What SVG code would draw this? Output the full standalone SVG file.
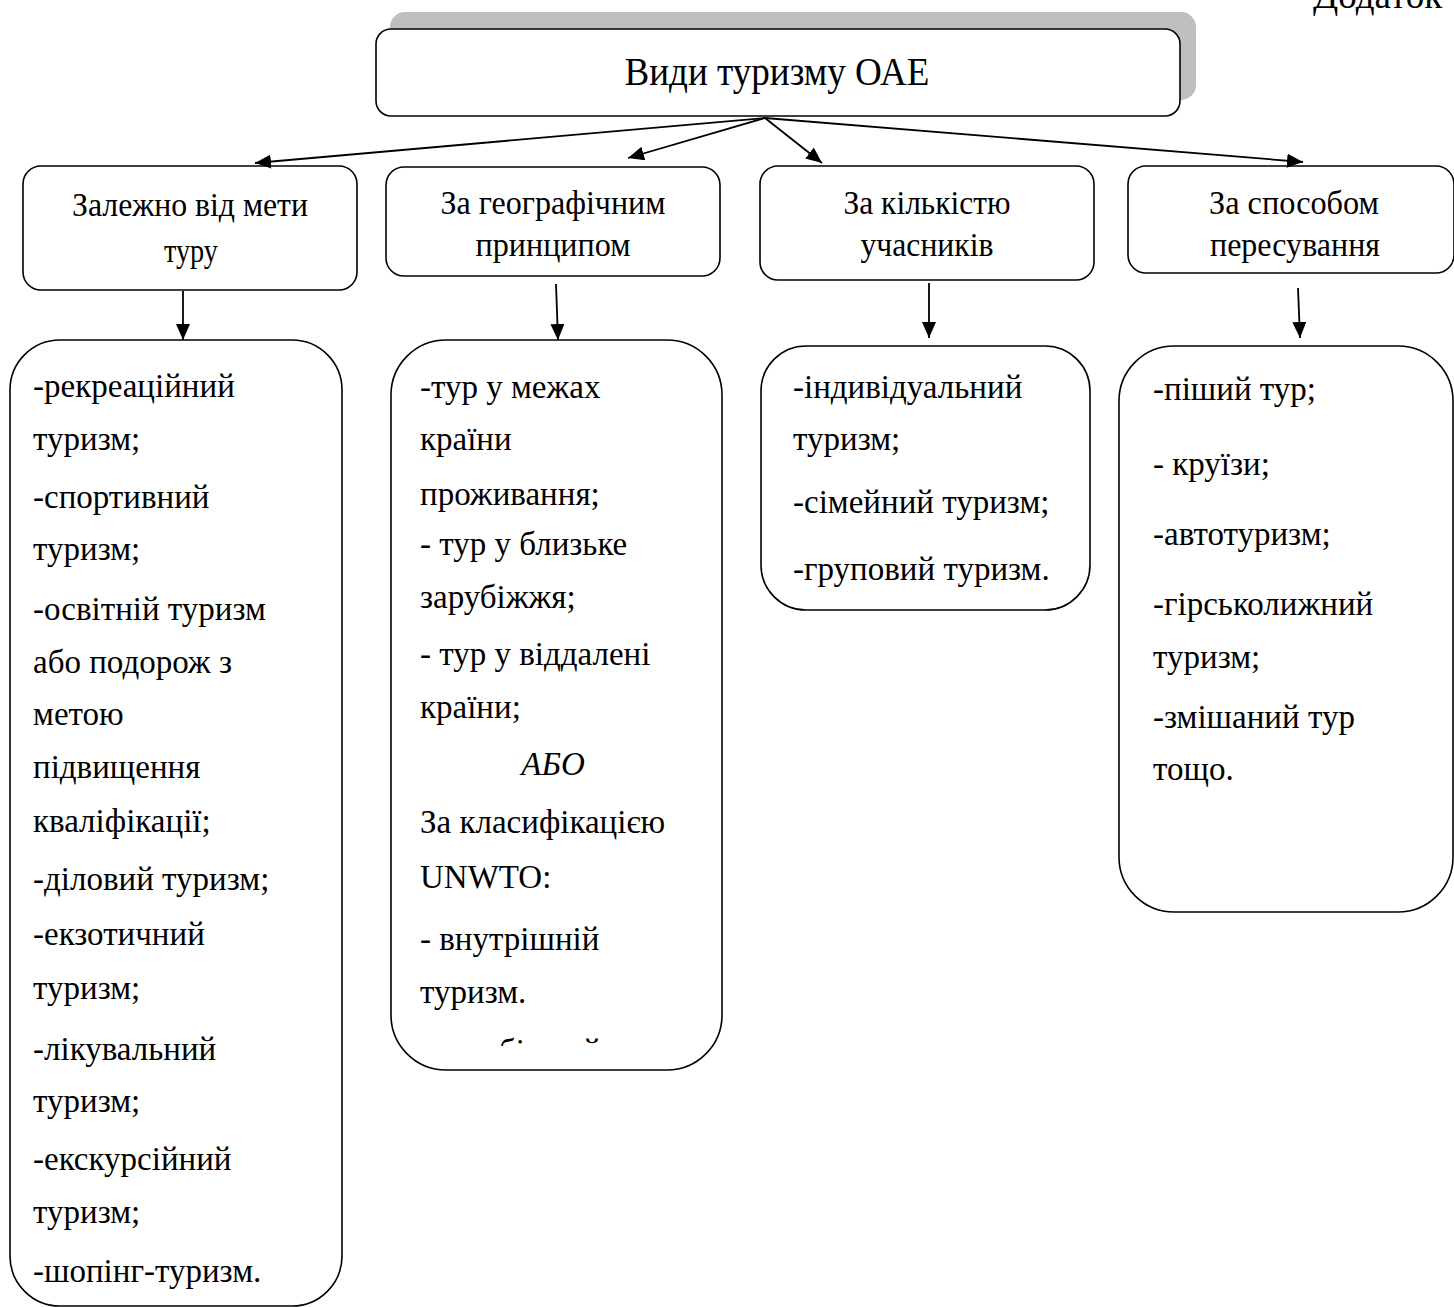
<svg xmlns="http://www.w3.org/2000/svg" width="1454" height="1307" viewBox="0 0 1454 1307">
<style>
.box{fill:#fff;stroke:#000;stroke-width:1.6}
.hd{font-family:"Liberation Serif","Times New Roman","DejaVu Serif",serif;font-size:33px;fill:#000;text-anchor:middle}
.li{font-family:"Liberation Serif","Times New Roman","DejaVu Serif",serif;font-size:33px;fill:#000}
.cn{stroke:#000;stroke-width:1.8;fill:none;marker-end:url(#ah)}
</style>
<defs>
<marker id="ah" viewBox="0 0 16 14" refX="16" refY="7" markerWidth="16" markerHeight="14" markerUnits="userSpaceOnUse" orient="auto">
<path d="M0,0 L16,7 L0,14 Z" fill="#000"/>
</marker>
<clipPath id="clip2"><rect x="391" y="1000" width="331" height="46"/></clipPath>
</defs>
<rect width="1454" height="1307" fill="#fff"/>
<text x="1313" y="8" style="font-family:'Liberation Serif','Times New Roman',serif;font-size:37px">Додаток</text>

<g id="root">
<rect x="390" y="12" width="806" height="88" rx="15" fill="#bfbfbf"/>
<rect class="box" x="376" y="29" width="804" height="87" rx="15"/>
<text class="hd" x="777" y="85" style="font-size:39px" textLength="305" lengthAdjust="spacingAndGlyphs">Види туризму ОАЕ</text>
</g>

<g id="cat1">
<rect class="box" x="23" y="166" width="334" height="124" rx="18"/>
<text class="hd" x="190" y="216" textLength="236" lengthAdjust="spacingAndGlyphs">Залежно від мети</text>
<text class="hd" x="191" y="262" textLength="54" lengthAdjust="spacingAndGlyphs">туру</text>
</g>
<g id="cat2">
<rect class="box" x="386" y="167" width="334" height="109" rx="18"/>
<text class="hd" x="553" y="214" textLength="225" lengthAdjust="spacingAndGlyphs">За географічним</text>
<text class="hd" x="553" y="256" textLength="155" lengthAdjust="spacingAndGlyphs">принципом</text>
</g>
<g id="cat3">
<rect class="box" x="760" y="166" width="334" height="114" rx="18"/>
<text class="hd" x="927" y="214" textLength="167" lengthAdjust="spacingAndGlyphs">За кількістю</text>
<text class="hd" x="927" y="256" textLength="133" lengthAdjust="spacingAndGlyphs">учасників</text>
</g>
<g id="cat4">
<rect class="box" x="1128" y="166" width="326" height="107" rx="18"/>
<text class="hd" x="1294" y="214" textLength="170" lengthAdjust="spacingAndGlyphs">За способом</text>
<text class="hd" x="1295" y="256" textLength="170" lengthAdjust="spacingAndGlyphs">пересування</text>
</g>

<g id="list1">
<rect class="box" x="10" y="340" width="332" height="966" rx="50"/>
<text class="li" x="33" y="397">-рекреаційний</text>
<text class="li" x="33" y="450">туризм;</text>
<text class="li" x="33" y="508">-спортивний</text>
<text class="li" x="33" y="560">туризм;</text>
<text class="li" x="33" y="620">-освітній туризм</text>
<text class="li" x="33" y="673">або подорож з</text>
<text class="li" x="33" y="725">метою</text>
<text class="li" x="33" y="778">підвищення</text>
<text class="li" x="33" y="832">кваліфікації;</text>
<text class="li" x="33" y="890">-діловий туризм;</text>
<text class="li" x="33" y="945">-екзотичний</text>
<text class="li" x="33" y="999">туризм;</text>
<text class="li" x="33" y="1060">-лікувальний</text>
<text class="li" x="33" y="1112">туризм;</text>
<text class="li" x="33" y="1170">-екскурсійний</text>
<text class="li" x="33" y="1223">туризм;</text>
<text class="li" x="33" y="1282">-шопінг-туризм.</text>
</g>

<g id="list2">
<rect class="box" x="391" y="340" width="331" height="730" rx="55"/>
<text class="li" x="420" y="398">-тур у межах</text>
<text class="li" x="420" y="450">країни</text>
<text class="li" x="420" y="505">проживання;</text>
<text class="li" x="420" y="555">- тур у близьке</text>
<text class="li" x="420" y="608">зарубіжжя;</text>
<text class="li" x="420" y="665">- тур у віддалені</text>
<text class="li" x="420" y="718">країни;</text>
<text class="li" x="553" y="775" text-anchor="middle" font-style="italic">АБО</text>
<text class="li" x="420" y="833">За класифікацією</text>
<text class="li" x="420" y="888">UNWTO:</text>
<text class="li" x="420" y="950">- внутрішній</text>
<text class="li" x="420" y="1003">туризм.</text>
<text class="li" x="420" y="1062" clip-path="url(#clip2)">- зарубіжний</text>
</g>

<g id="list3">
<rect class="box" x="761" y="346" width="329" height="264" rx="45"/>
<text class="li" x="793" y="398">-індивідуальний</text>
<text class="li" x="793" y="450">туризм;</text>
<text class="li" x="793" y="513">-сімейний туризм;</text>
<text class="li" x="793" y="580">-груповий туризм.</text>
</g>

<g id="list4">
<rect class="box" x="1119" y="346" width="334" height="566" rx="55"/>
<text class="li" x="1153" y="400">-піший тур;</text>
<text class="li" x="1153" y="475">- круїзи;</text>
<text class="li" x="1153" y="545">-автотуризм;</text>
<text class="li" x="1153" y="615">-гірськолижний</text>
<text class="li" x="1153" y="668">туризм;</text>
<text class="li" x="1153" y="728">-змішаний тур</text>
<text class="li" x="1153" y="780">тощо.</text>
</g>

<g id="connectors">
<line class="cn" x1="765" y1="118" x2="255" y2="163"/>
<line class="cn" x1="765" y1="118" x2="628" y2="158"/>
<line class="cn" x1="765" y1="118" x2="822" y2="163"/>
<line class="cn" x1="765" y1="118" x2="1303" y2="162"/>
<line class="cn" x1="183" y1="291" x2="183" y2="340"/>
<line class="cn" x1="556" y1="284" x2="558" y2="340"/>
<line class="cn" x1="929" y1="283" x2="929" y2="338"/>
<line class="cn" x1="1298" y1="288" x2="1300" y2="338"/>
</g>
</svg>
